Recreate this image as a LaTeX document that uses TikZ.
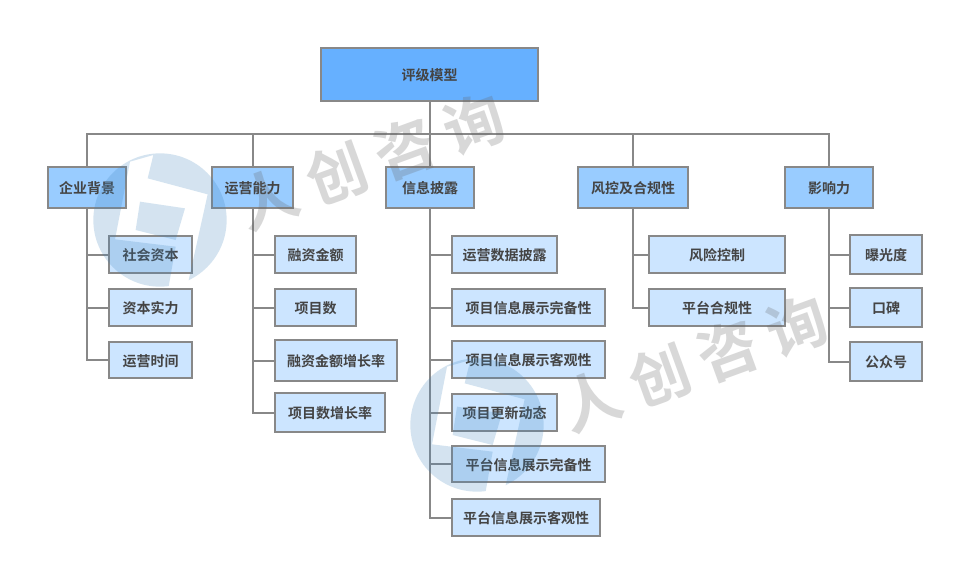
\documentclass[tikz,border=0pt]{standalone}
\usepackage{fontspec}
\setmainfont{Noto Sans CJK SC}[BoldFont={Noto Sans CJK SC Bold}]
\newfontfamily\wmfont{Noto Sans CJK SC}[BoldFont={Noto Sans CJK SC Bold},LetterSpace=22]
\definecolor{rootc}{HTML}{66B0FF}
\definecolor{midc}{HTML}{99CCFF}
\definecolor{leafc}{HTML}{CCE5FF}
\definecolor{linec}{HTML}{888888}
\definecolor{txtc}{HTML}{444444}
\definecolor{logoc}{RGB}{60,131,187}
\definecolor{wmc}{RGB}{100,100,100}
\tikzset{
  box/.style={draw=linec,line width=2pt,inner sep=0pt,text=txtc,text height=12.6pt,text depth=0pt,font=\bfseries\fontsize{14}{16}\selectfont},
  rootbox/.style={box,fill=rootc},
  midbox/.style={box,fill=midc},
  leafbox/.style={box,fill=leafc},
  link/.style={draw=linec,line width=2pt,line cap=butt},
  wmark/.style={text=wmc,text opacity=.25,rotate=20,font=\wmfont\bfseries\fontsize{60}{64}\selectfont}
}
\newcommand{\bx}[7]{\node[#1,minimum width={(#5-#3)*1pt},minimum height={(#6-#4)*1pt}] (#2) at ({(#3+#5)/2*1pt},{-(#4+#6)/2*1pt}) {#7};}
\newcommand{\logomark}[2]{%
  \begin{scope}[shift={(#1pt,-#2pt)},x=.3333pt,y=-.3333pt]
    \begin{scope}
      \clip (0,0) circle[radius=200];
      \fill[logoc,opacity=.22,even odd rule]
        (-220,-220) rectangle (220,220)
        (-90,-175) -- (-20,-195) -- (-37,-125) -- (143,-77) -- (85,185) -- (25,205) -- (47,80) -- (-135,58) -- cycle
        (-60,-55) -- (75,-35) -- (47,60) -- (-73,30) -- cycle;
    \end{scope}
  \end{scope}}
\begin{document}
\begin{tikzpicture}[x=1pt,y=1pt]
\useasboundingbox (0,0) rectangle (953,-568);
\fill[white] (0,0) rectangle (953,-568);
\bx{rootbox}{root}{321}{48}{538}{101}{评级模型}
\bx{midbox}{a}{48}{167}{126}{208}{企业背景}
\bx{midbox}{b}{212}{167}{293}{208}{运营能力}
\bx{midbox}{c}{386}{167}{474}{208}{信息披露}
\bx{midbox}{d}{578}{167}{688}{208}{风控及合规性}
\bx{midbox}{e}{785}{167}{873}{208}{影响力}
\bx{leafbox}{a1}{109}{236}{192}{273}{社会资本}
\bx{leafbox}{a2}{109}{289}{192}{326}{资本实力}
\bx{leafbox}{a3}{109}{342}{192}{378}{运营时间}
\bx{leafbox}{b1}{275}{236}{356}{273}{融资金额}
\bx{leafbox}{b2}{275}{289}{356}{326}{项目数}
\bx{leafbox}{b3}{275}{340}{397}{381}{融资金额增长率}
\bx{leafbox}{b4}{275}{393}{385}{432}{项目数增长率}
\bx{leafbox}{c1}{452}{236}{557}{273}{运营数据披露}
\bx{leafbox}{c2}{452}{289}{605}{326}{项目信息展示完备性}
\bx{leafbox}{c3}{452}{341}{605}{378}{项目信息展示客观性}
\bx{leafbox}{c4}{452}{394}{557}{431}{项目更新动态}
\bx{leafbox}{c5}{452}{446}{605}{482}{平台信息展示完备性}
\bx{leafbox}{c6}{452}{499}{600}{536}{平台信息展示客观性}
\bx{leafbox}{d1}{649}{236}{785}{273}{风险控制}
\bx{leafbox}{d2}{649}{289}{785}{326}{平台合规性}
\bx{leafbox}{e1}{850}{235}{922}{274}{曝光度}
\bx{leafbox}{e2}{850}{288}{922}{327}{口碑}
\bx{leafbox}{e3}{850}{342}{922}{381}{公众号}
\coordinate (bus) at (429.5,-134);
\draw[link] (root.south) -- (bus);
\foreach \p in {a,b,c,d,e} \draw[link] (\p.north) -- (\p.north |- bus) -- (bus);
\foreach \p/\k in {a/a1,a/a2,a/a3,b/b1,b/b2,b/b3,b/b4,c/c1,c/c2,c/c3,c/c4,c/c5,c/c6,d/d1,d/d2,e/e1,e/e2,e/e3}
  \draw[link] (\p.south) |- (\k.west);
\logomark{160}{220}
\logomark{477}{425}
\node[wmark] (wm1) at (371,-161) {人创咨询};
\node[wmark] (wm2) at (694,-363) {人创咨询};
\end{tikzpicture}
\end{document}
